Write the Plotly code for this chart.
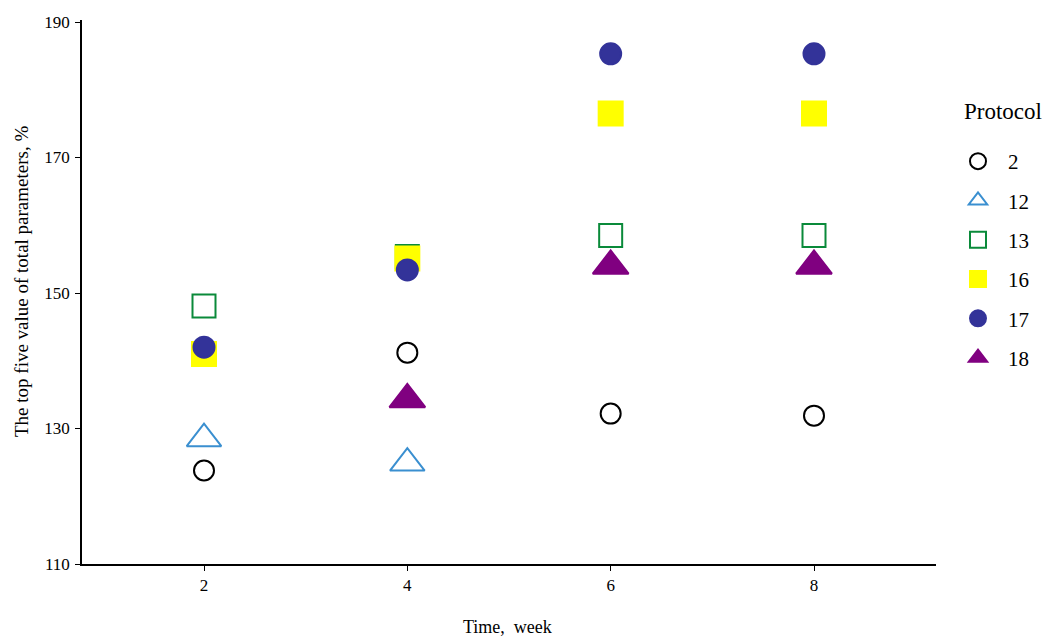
import plotly.graph_objects as go

weeks = [2, 4, 6, 8]
protocols = ["2", "12", "13", "16", "17", "18"]
values = {
    "2":  [123.8, 141.2, 132.2, 131.9],
    "12": [128.5, 124.9, None, None],
    "13": [148.1, 155.4, 158.5, 158.5],
    "16": [141.0, 155.1, 176.5, 176.5],
    "17": [142.0, 153.4, 185.3, 185.3],
    "18": [None, 134.3, 154.0, 154.0],
}
symbols = {"2": "circle-open", "12": "triangle-up-open", "13": "square-open",
           "16": "square", "17": "circle", "18": "triangle-up"}
colors = {"2": "#000000", "12": "#3A8FD0", "13": "#0A8A3A",
          "16": "#FFFF00", "17": "#333399", "18": "#800080"}
sizes = {"2": 20, "12": 30, "13": 23, "16": 24, "17": 21, "18": 31}

font = "Liberation Serif, Times New Roman, serif"

fig = go.Figure()
for p in protocols:
    fig.add_trace(go.Scatter(
        x=weeks, y=values[p], mode="markers", name=p, legendgroup=p,
        marker=dict(symbol=symbols[p], color=colors[p], size=sizes[p],
                    line=dict(width=2, color=colors[p])),
    ))

W, H = 1049, 639
l, r, t, b = 82, 113, 20, 75
pw, ph = W - l - r, H - t - b
def px(x): return (x - l) / pw
def py(y): return (H - b - y) / ph

fig.update_layout(
    width=W, height=H,
    margin=dict(l=l, r=r, t=t, b=b),
    plot_bgcolor="white", paper_bgcolor="white",
    font=dict(family=font, color="black", size=17),
    showlegend=True,
    legend=dict(
        font=dict(family=font, size=21, color="black"), x=px(948), xanchor="left",
        y=py(141), yanchor="top", itemwidth=50,
        traceorder="grouped", tracegroupgap=9, itemsizing="trace",
    ),
    xaxis=dict(range=[0.8, 9.2], tickvals=weeks, ticks="outside", ticklen=5,
               showline=True, linecolor="black", linewidth=1.5, tickcolor="black",
               tickfont=dict(family=font, size=17, color="black"), ticklabelstandoff=0,
               showgrid=False, zeroline=False, automargin=False),
    yaxis=dict(range=[110, 190.3], tickvals=[110, 130, 150, 170, 190], ticks="outside",
               ticklen=5, showline=True, linecolor="black", linewidth=1.5, tickcolor="black",
               tickfont=dict(family=font, size=17, color="black"), ticklabelstandoff=2,
               showgrid=False, zeroline=False, automargin=False),
    annotations=[
        dict(text="Time,  week", x=px(507), y=py(627), xref="paper", yref="paper",
             xanchor="center", yanchor="middle",
             showarrow=False, font=dict(family=font, size=18)),
        dict(text="The top five value of total parameters, %", textangle=-90,
             x=px(21), y=py(282), xref="paper", yref="paper",
             xanchor="center", yanchor="middle",
             showarrow=False, font=dict(family=font, size=19)),
        dict(text="Protocol", x=px(962), y=py(112), xref="paper", yref="paper",
             xanchor="left", yanchor="middle",
             showarrow=False, font=dict(family=font, size=23)),
    ],
)
fig.write_html("out.html", config={"displayModeBar": False},
               post_script="document.body.style.margin='0';")
